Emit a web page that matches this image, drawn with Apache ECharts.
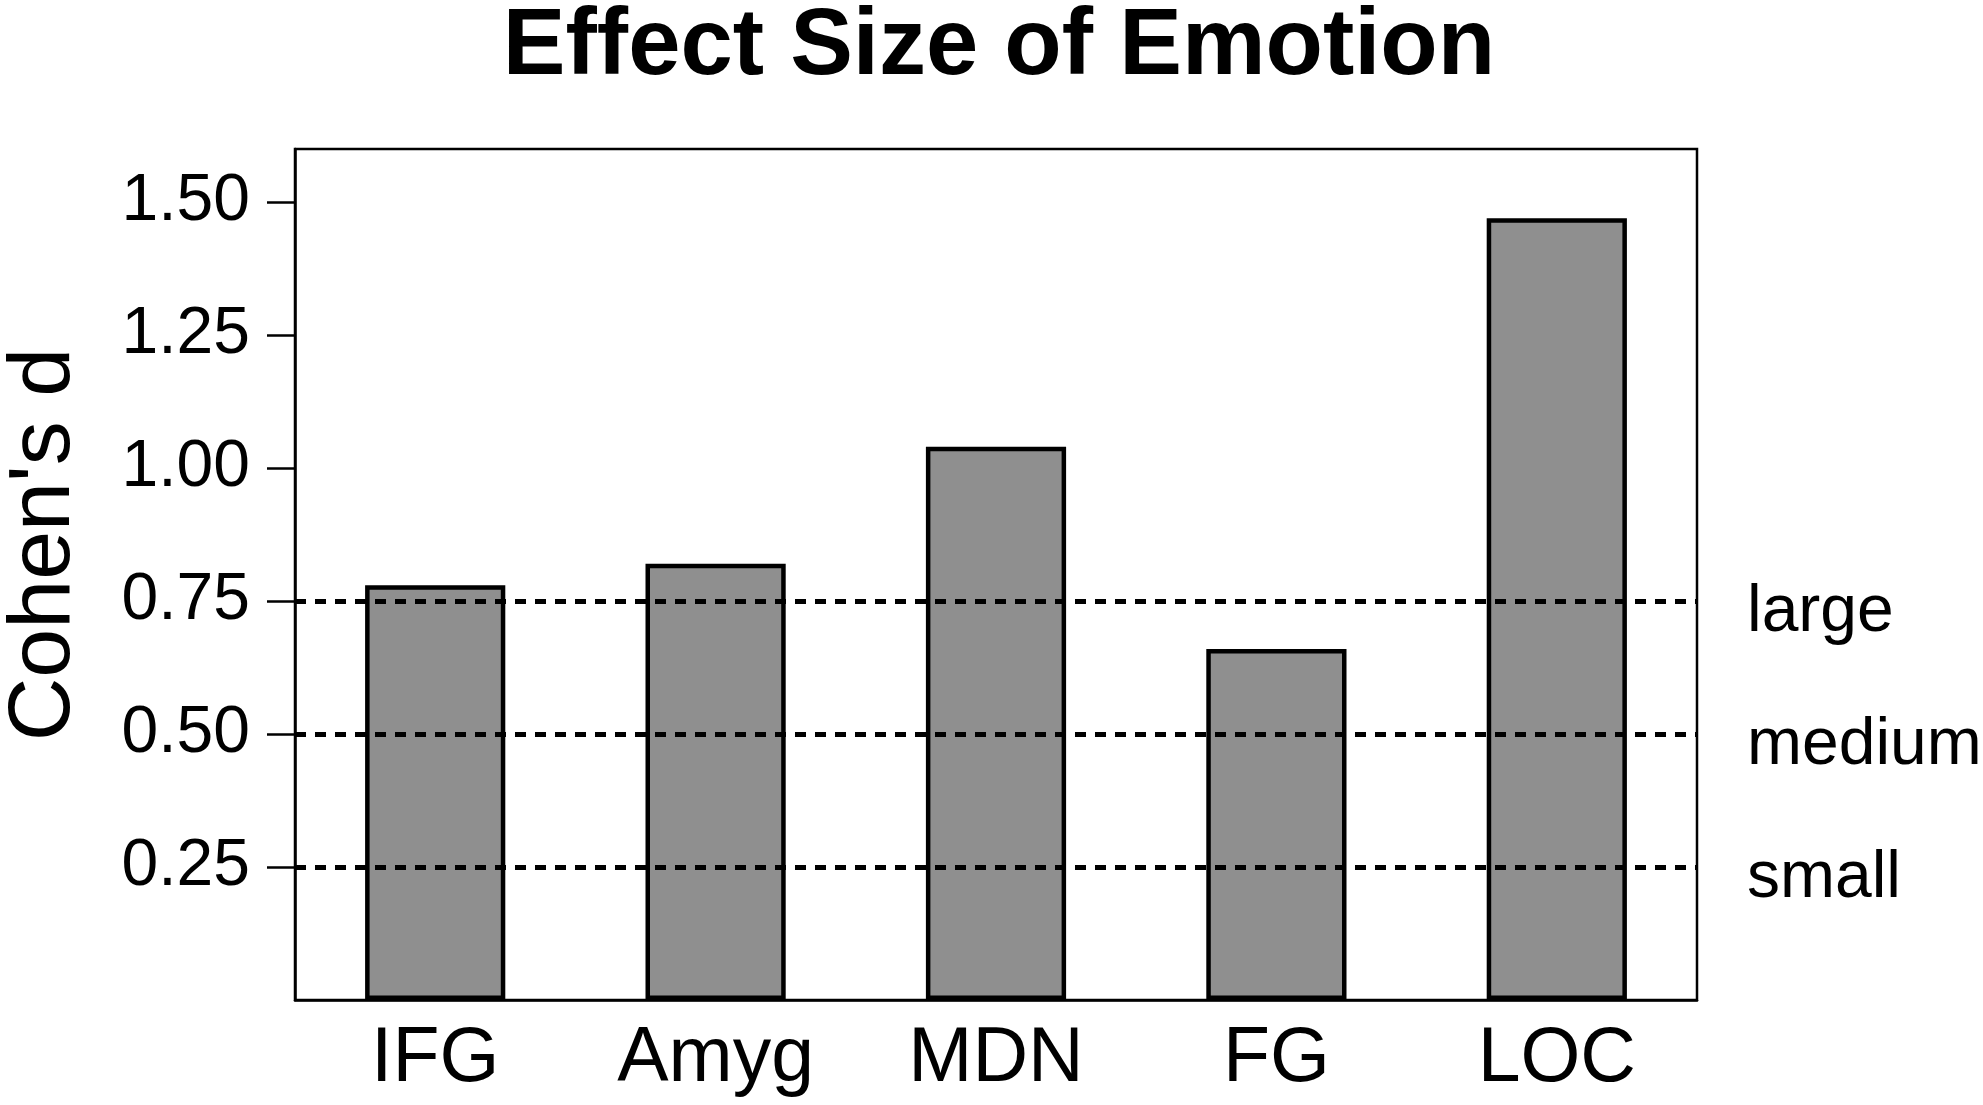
<!DOCTYPE html>
<html>
<head>
<meta charset="utf-8">
<script src="https://cdn.jsdelivr.net/npm/echarts@6/dist/echarts.min.js"></script>
<style>
html,body{margin:0;padding:0;background:#fff;}
#chart{width:1983px;height:1105px;}
</style>
</head>
<body>
<div id="chart"></div>
<script>
const categories = ['IFG', 'Amyg', 'MDN', 'FG', 'LOC'];
const effectSizes = [0.78, 0.82, 1.04, 0.66, 1.47];
const yTickValues = [0.25, 0.50, 0.75, 1.00, 1.25, 1.50];
const thresholdValues = [0.25, 0.50, 0.75];
const thresholdNames = ['small', 'medium', 'large'];

const FONT = '"Liberation Sans", Arial, Helvetica, sans-serif';

const chart = echarts.init(document.getElementById('chart'), null, {renderer: 'canvas'});

const option = {
  animation: false,
  backgroundColor: '#ffffff',
  title: {
    text: 'Effect Size of Emotion',
    left: 994,
    textAlign: 'center',
    top: -4,
    textStyle: {fontFamily: FONT, fontWeight: 'bold', fontSize: 94, color: '#000'}
  },
  grid: {
    left: 295, right: 286, top: 149, bottom: 105,
    outerBoundsMode: 'none',
    containLabel: false,
    show: true, borderColor: '#000', borderWidth: 2.5, backgroundColor: 'transparent'
  },
  xAxis: {
    type: 'category',
    data: categories,
    boundaryGap: true,
    axisLine: {show: true, lineStyle: {color: '#000', width: 2.5}},
    axisTick: {show: false},
    axisLabel: {margin: 21, color: '#000', fontFamily: FONT, fontSize: 77}
  },
  yAxis: {
    type: 'value',
    min: 0, max: 1.6, interval: 0.25,
    name: "Cohen's d",
    nameLocation: 'middle',
    nameGap: 206,
    nameTextStyle: {fontFamily: FONT, fontSize: 88, color: '#000', padding: [0, 0, 0, 60]},
    splitLine: {show: false},
    axisLine: {show: true, lineStyle: {color: '#000', width: 2.5}},
    axisTick: {show: true, length: 28, lineStyle: {color: '#000', width: 2.5}, customValues: yTickValues},
    axisLabel: {
      margin: 45, color: '#000', fontFamily: FONT, fontSize: 66,
      customValues: yTickValues,
      formatter: v => v.toFixed(2)
    }
  },
  series: [{
    type: 'bar',
    data: effectSizes,
    barWidth: '50%',
    itemStyle: {color: '#8f8f8f', borderColor: '#000', borderWidth: 4.5},
    markLine: {
      silent: true,
      symbol: 'none',
      lineStyle: {color: '#000', type: [11, 9], width: 5},
      label: {
        show: true, position: 'end', distance: 50,
        formatter: '{t|{b}}',
        rich: {
          t: {padding: [24, 0, 0, 0], color: '#000', fontFamily: FONT, fontSize: 66}
        },
        color: '#000', fontFamily: FONT, fontSize: 66
      },
      data: thresholdValues.map((v, i) => ({yAxis: v, name: thresholdNames[i]}))
    }
  }]
};
chart.setOption(option);
</script>
</body>
</html>
